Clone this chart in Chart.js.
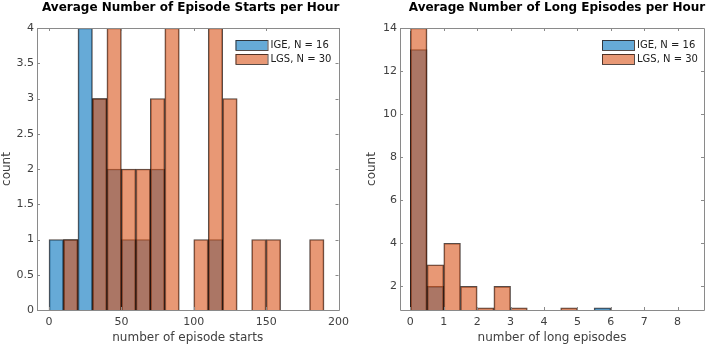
<!DOCTYPE html>
<html>
<head>
<meta charset="utf-8">
<script src="https://cdn.jsdelivr.net/npm/chart.js@4.4.0/dist/chart.umd.min.js"></script>
<style>
  html, body { margin: 0; padding: 0; background: #ffffff; }
  #wrap { position: relative; width: 709px; height: 347px; overflow: hidden; }
  canvas { position: absolute; top: 0; }
</style>
</head>
<body>
<div id="wrap">
  <canvas id="c1" width="355" height="347" style="left:0px"></canvas>
  <canvas id="c2" width="354" height="347" style="left:355px"></canvas>
</div>
<script>
// ---------- Data ----------
const startBinCenters = [5,15,25,35,45,55,65,75,85,95,105,115,125,135,145,155,165,175,185];
const igeStarts = [1,1,4,3,2,1,1,2,0,0,0,1,0,0,0,0,0,0,0];
const lgsStarts = [0,1,0,3,4,2,2,3,4,0,1,4,3,0,1,1,0,0,1];
const startXTicks = [0,50,100,150,200];
const startYTicks = [0,0.5,1,1.5,2,2.5,3,3.5,4];

const longBinCenters = [0.25,0.75,1.25,1.75,2.25,2.75,3.25,3.75,4.25,4.75,5.25,5.75];
const igeLong = [13,2,0,0,0,0,0,0,0,0,0,1];
const lgsLong = [14,3,4,2,1,2,1,0,0,1,0,0];
const longXTicks = [0,1,2,3,4,5,6,7,8];
const longYTicks = [2,4,6,8,10,12,14];

const seriesLabels = ['IGE, N = 16', 'LGS, N = 30'];
const titles = ['Average Number of Episode Starts per Hour', 'Average Number of Long Episodes per Hour'];

// ---------- Styles ----------
const FONT = "'DejaVu Sans', sans-serif";
const BLUE = 'rgba(0,114,189,0.6)';
const ORANGE = 'rgba(217,83,25,0.6)';
const EDGE = 'rgba(30,15,10,0.75)';
const AXIS = '#8a8a8a';
const TEXT = '#404040';

function pts(xs, ys) { return xs.map((x, i) => ({x: x, y: ys[i]})); }

const boxPlugin = {
  id: 'matlabBox',
  afterDatasetsDraw(chart) {
    const {ctx, chartArea: a, scales: {x, y}} = chart;
    ctx.save();
    ctx.strokeStyle = AXIS;
    ctx.lineWidth = 1;
    ctx.beginPath();
    ctx.rect(Math.round(a.left) + 0.5, Math.round(a.top) + 0.5,
             Math.round(a.right - a.left), Math.round(a.bottom - a.top));
    ctx.stroke();
    const L = 3;
    ctx.beginPath();
    x.ticks.forEach(t => {
      const px = Math.round(x.getPixelForValue(t.value)) + 0.5;
      if (px < a.left || px > a.right + 1) return;
      ctx.moveTo(px, a.bottom); ctx.lineTo(px, a.bottom - L);
      ctx.moveTo(px, a.top); ctx.lineTo(px, a.top + L);
    });
    y.ticks.forEach(t => {
      const py = Math.round(y.getPixelForValue(t.value)) + 0.5;
      ctx.moveTo(a.left, py); ctx.lineTo(a.left + L, py);
      ctx.moveTo(a.right, py); ctx.lineTo(a.right - L, py);
    });
    ctx.stroke();
    ctx.restore();
  },
  afterDraw(chart) {
    const {ctx, chartArea: a} = chart;
    const opts = chart.options.plugins.matlabBox;
    ctx.save();
    // title centred over the axes
    ctx.font = 'bold 12px ' + FONT;
    ctx.fillStyle = '#000000';
    ctx.textAlign = 'center';
    ctx.textBaseline = 'middle';
    ctx.fillText(opts.title, (a.left + a.right) / 2 + opts.titleShift, 8);
    // legend (MATLAB style, top-right inside axes)
    ctx.font = '10px ' + FONT;
    ctx.textAlign = 'left';
    const sx = a.right - opts.legendOffset;
    chart.data.datasets.forEach((ds, i) => {
      const top = a.top + 12 + i * 14;
      ctx.fillStyle = ds.backgroundColor;
      ctx.fillRect(sx, top, 32, 10);
      ctx.strokeStyle = EDGE;
      ctx.lineWidth = 1;
      ctx.strokeRect(sx + 0.5, top + 0.5, 32, 10);
      ctx.fillStyle = '#202020';
      ctx.fillText(ds.label, sx + 35, top + 5.5);
    });
    ctx.restore();
  }
};

function makeChart(id, opt) {
  return new Chart(document.getElementById(id), {
    type: 'bar',
    data: {
      datasets: [
        { label: seriesLabels[0], data: pts(opt.centers, opt.ige), backgroundColor: BLUE,
          borderColor: EDGE, borderWidth: 1, order: 2, clip: 0,
          barPercentage: 1, categoryPercentage: 1, grouped: false },
        { label: seriesLabels[1], data: pts(opt.centers, opt.lgs), backgroundColor: ORANGE,
          borderColor: EDGE, borderWidth: 1, order: 1, clip: 0,
          barPercentage: 1, categoryPercentage: 1, grouped: false }
      ]
    },
    options: {
      responsive: false,
      animation: false,
      devicePixelRatio: 1,
      layout: { padding: { left: 0, right: opt.padRight, top: 28, bottom: 0 } },
      plugins: {
        legend: { display: false },
        tooltip: { enabled: false },
        title: { display: false },
        matlabBox: { legendOffset: opt.legendOffset, title: opt.title, titleShift: opt.titleShift }
      },
      scales: {
        x: {
          type: 'linear', offset: false,
          min: opt.xMin, max: opt.xMax,
          afterBuildTicks: s => { s.ticks = opt.xTicks.map(v => ({value: v})); },
          afterFit: s => { s.height = 37; },
          grid: { display: false, drawTicks: false },
          border: { display: false },
          ticks: { color: TEXT, font: { family: FONT, size: 11 }, padding: 6, maxRotation: 0,
                   autoSkip: false, callback: v => String(v) },
          title: { display: true, text: opt.xTitle, color: TEXT,
                   font: { family: FONT, size: 12, lineHeight: 1.2 }, padding: { top: 0, bottom: 2 } }
        },
        y: {
          type: 'linear', min: opt.yMin, max: opt.yMax,
          afterBuildTicks: s => { s.ticks = opt.yTicks.map(v => ({value: v})); },
          afterFit: s => { s.width = opt.yWidth; },
          grid: { display: false, drawTicks: false },
          border: { display: false },
          ticks: { color: TEXT, font: { family: FONT, size: 11 }, padding: 3,
                   autoSkip: false, callback: v => String(v) },
          title: { display: true, text: 'count', color: TEXT,
                   font: { family: FONT, size: 12, lineHeight: 1.2 }, padding: { top: opt.yTitlePad, bottom: 0 } }
        }
      }
    },
    plugins: [boxPlugin]
  });
}

makeChart('c1', {
  centers: startBinCenters, ige: igeStarts, lgs: lgsStarts,
  xTicks: startXTicks, yTicks: startYTicks,
  xMin: -8.3, xMax: 200, yMin: 0, yMax: 4,
  title: titles[0], titleShift: 3, xTitle: 'number of episode starts',
  padRight: 14, yWidth: 37, yTitlePad: 0, legendOffset: 103
});
makeChart('c2', {
  centers: longBinCenters, ige: igeLong, lgs: lgsLong,
  xTicks: longXTicks, yTicks: longYTicks,
  xMin: -0.31, xMax: 8.79, yMin: 0.9, yMax: 14,
  title: titles[1], titleShift: 5, xTitle: 'number of long episodes',
  padRight: 5, yWidth: 45, yTitlePad: 10, legendOffset: 102
});
</script>
</body>
</html>
